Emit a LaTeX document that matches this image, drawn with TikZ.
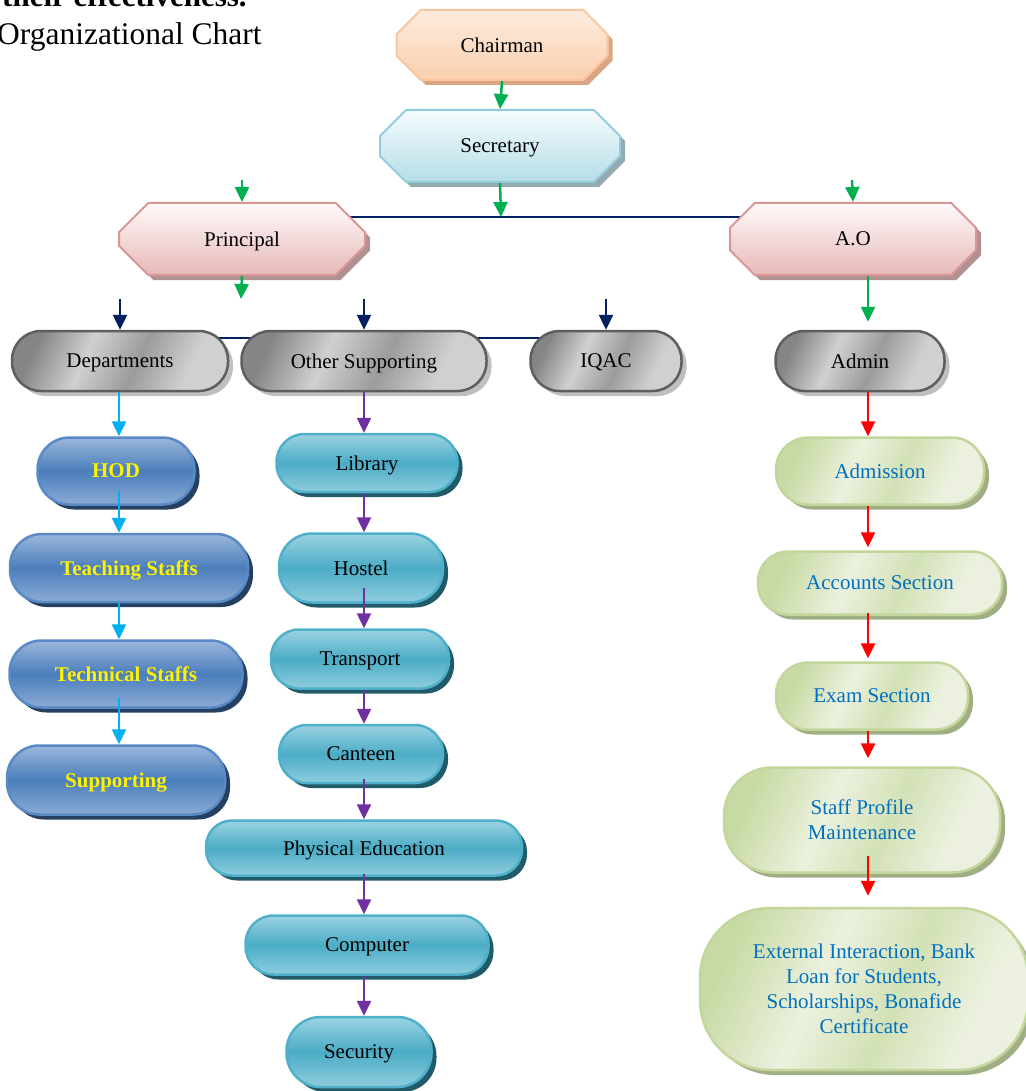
\documentclass[tikz,border=0pt]{standalone}
\usepackage{fontspec}
\setmainfont{Liberation Serif}
\usetikzlibrary{arrows.meta,shapes.misc,shadows,backgrounds}

\definecolor{chairline}{HTML}{F8C79F}
\definecolor{chairtop}{HTML}{FDEBDD}
\definecolor{chairbot}{HTML}{FAD0AE}
\definecolor{chairshd}{HTML}{D9A583}
\definecolor{secline}{HTML}{93CDDD}
\definecolor{sectop}{HTML}{F4FBFD}
\definecolor{secbot}{HTML}{B7DEE8}
\definecolor{secshd}{HTML}{93AAB1}
\definecolor{prinline}{HTML}{D99694}
\definecolor{printop}{HTML}{FFFAFA}
\definecolor{prinbot}{HTML}{E6B9B8}
\definecolor{prinshd}{HTML}{B09090}
\definecolor{grayline}{HTML}{5E5E5E}
\definecolor{grayD}{HTML}{858585}
\definecolor{grayL}{HTML}{D0D0D0}
\definecolor{grayshd}{HTML}{BFBFBF}
\definecolor{blueline}{HTML}{5A8AC6}
\definecolor{bluetop}{HTML}{9BB7DB}
\definecolor{bluemid}{HTML}{4A7EBB}
\definecolor{blueshd}{HTML}{254061}
\definecolor{tealline}{HTML}{4FB0CA}
\definecolor{tealtop}{HTML}{9BD3E2}
\definecolor{tealmid}{HTML}{4BACC6}
\definecolor{tealshd}{HTML}{215A69}
\definecolor{grnline}{HTML}{C3D69B}
\definecolor{grnD}{HTML}{C8DAA4}
\definecolor{grnL}{HTML}{EBF1DE}
\definecolor{grnshd}{HTML}{A0AF83}
\definecolor{txtblue}{HTML}{0070C0}
\definecolor{arrgreen}{HTML}{00B050}
\definecolor{arrnavy}{HTML}{002060}
\definecolor{arrcyan}{HTML}{00B0F0}
\definecolor{arrpurple}{HTML}{7030A0}
\definecolor{arrred}{HTML}{FF0000}

\pgfdeclarehorizontalshading{grayband}{100bp}{color(0bp)=(grayD); color(25bp)=(grayD);
  color(40bp)=(grayL); color(55bp)=(grayD!70!grayL); color(70bp)=(grayL);
  color(75bp)=(grayL); color(100bp)=(grayL)}
\pgfdeclarehorizontalshading{grnband}{100bp}{color(0bp)=(grnD); color(25bp)=(grnD);
  color(42bp)=(grnL); color(56bp)=(grnD!70!grnL); color(70bp)=(grnL);
  color(75bp)=(grnL); color(100bp)=(grnL)}

\newcommand\chartfont{\fontsize{21}{25}\selectfont}

\tikzset{
  box/.style={draw,inner sep=0pt,align=center,font=\chartfont,text depth=0pt},
  shd/.style={drop shadow={shadow xshift=5pt,shadow yshift=-5pt,fill=#1,opacity=1}},
  octa/.style={box,chamfered rectangle,chamfered rectangle xsep=#1,
    chamfered rectangle ysep=#1,line width=2pt},
  pill/.style={box,rounded corners=#1,line width=2.5pt},
  orangebox/.style={draw=chairline,top color=chairtop,bottom color=chairbot,shd=chairshd},
  lbluebox/.style={draw=secline,top color=sectop,bottom color=secbot,shd=secshd},
  pinkbox/.style={draw=prinline,top color=printop,bottom color=prinbot,shd=prinshd},
  graypill/.style={pill=29pt,minimum height=60pt,draw=grayline,shading=grayband,
    shading angle=-25,shd=grayshd},
  bluepill/.style={pill=32pt,draw=blueline,top color=bluetop,
    bottom color=bluetop!80!bluemid,middle color=bluemid,shd=blueshd,text=yellow,
    font=\chartfont\bfseries},
  tealpill/.style={pill=#1,draw=tealline,top color=tealtop,
    bottom color=tealtop!85!tealmid,middle color=tealmid,shd=tealshd},
  grnpill/.style={pill=#1,draw=grnline,shading=grnband,shading angle=-25,
    shd=grnshd,text=txtblue},
  arr/.style={line width=2.5pt,-{Triangle[width=14pt,length=15pt]},draw=#1},
  busline/.style={draw=arrnavy,line width=2pt}
}

\begin{document}
\begin{tikzpicture}[x=1pt,y=-1pt]
\useasboundingbox (0,0) rectangle (1025,1091);

% text above the chart
\node[anchor=base west,inner sep=0pt,font=\fontsize{31}{36}\selectfont\bfseries] (prev) at (2,7) {their effectiveness.};
\node[anchor=base west,inner sep=0pt,font=\fontsize{31.5}{36}\selectfont] (title) at (-3,45) {Organizational Chart};

% top of the chart
\node[octa=17pt,orangebox,minimum width=211pt,minimum height=70pt] (chair) at (502,45) {Chairman};
\node[octa=19pt,lbluebox,minimum width=240pt,minimum height=72pt] (secr) at (500,146) {Secretary};
\node[octa=22pt,pinkbox,minimum width=246pt,minimum height=72pt] (prin) at (242,239) {Principal};
\node[octa=22pt,pinkbox,minimum width=246pt,minimum height=72pt] (ao) at (853,239) {A.O};

% second level
\node[graypill,minimum width=216pt] (dept) at (120,361) {Departments};
\node[graypill,minimum width=245pt] (other) at (364,361) {Other Supporting};
\node[graypill,minimum width=151pt] (iqac) at (606,361) {IQAC};
\node[graypill,minimum width=169pt] (admin) at (860,361) {Admin};

% departments
\node[bluepill,minimum width=157pt,minimum height=67pt] (hod) at (116,471) {HOD};
\node[bluepill,minimum width=238pt,minimum height=68pt] (teach) at (129,568) {Teaching Staffs};
\node[bluepill,minimum width=233pt,minimum height=67pt] (tech) at (126,674) {Technical Staffs};
\node[bluepill,minimum width=218pt,minimum height=69pt] (supp) at (116,780) {Supporting};

% other supporting
\node[tealpill=28pt,minimum width=181pt,minimum height=58pt] (lib) at (367,463) {Library};
\node[tealpill=33pt,minimum width=164pt,minimum height=69pt] (host) at (361,568) {Hostel};
\node[tealpill=28pt,minimum width=178pt,minimum height=59pt] (trans) at (360,659) {Transport};
\node[tealpill=28pt,minimum width=164pt,minimum height=58pt] (cant) at (361,754) {Canteen};
\node[tealpill=26pt,minimum width=316pt,minimum height=55pt] (pe) at (364,848) {Physical Education};
\node[tealpill=28pt,minimum width=243pt,minimum height=59pt] (comp) at (367,945) {Computer};
\node[tealpill=34pt,minimum width=145pt,minimum height=70pt] (secu) at (359,1052) {Security};

% admin
\node[grnpill=32pt,minimum width=208pt,minimum height=67pt] (adm) at (880,471) {Admission};
\node[grnpill=30pt,minimum width=244pt,minimum height=63pt] (acc) at (880,583) {Accounts Section};
\node[grnpill=32pt,minimum width=192pt,minimum height=67pt] (exam) at (872,696) {Exam Section};
\node[grnpill=48pt,minimum width=276pt,minimum height=105pt] (staff) at (862,820) {Staff Profile\\Maintenance};
\node[grnpill=70pt,minimum width=328pt,minimum height=162pt] (ext) at (864,989)
  {External Interaction, Bank\\Loan for Students,\\Scholarships, Bonafide\\Certificate};

% bus lines
\coordinate (bus) at (501,217);
\coordinate (bus2) at (0,338);
\begin{scope}[on background layer]
\draw[busline] (prin.center |- bus) -- (ao.center |- bus);
\draw[busline] (dept.center |- bus2) -- (iqac.center |- bus2);
\end{scope}

% green arrows
\coordinate (prinin) at (242,180);
\coordinate (prinout) at (241,299);
\coordinate (aoin) at (852,180);
\coordinate (aox) at (868,0);
\draw[arr=arrgreen] (chair.south) -- (secr.north);
\draw[arr=arrgreen] (secr.south) -- (bus);
\draw[arr=arrgreen] (prinin) -- (prin.north);
\draw[arr=arrgreen] (prin.south) -- (prinout);
\draw[arr=arrgreen] (aoin) -- (ao.north);
\draw[arr=arrgreen,shorten >=8pt] (ao.south -| aox) -- (admin.north -| aox);

% navy arrows
\foreach \n in {dept,other,iqac}{
  \coordinate (\n-in) at ([yshift=31pt]\n.north);
  \draw[arr=arrnavy] (\n-in) -- (\n.north);
}

% cyan arrows
\coordinate (cyx) at (119,0);
\foreach \a/\b/\s in {dept/hod/0,hod/teach/-15,teach/tech/0,tech/supp/-11}
  \draw[arr=arrcyan,shorten <=\s pt] (\a.south -| cyx) -- (\b.north -| cyx);

% purple arrows
\coordinate (pux) at (364,0);
\foreach \a/\b/\s in {other/lib/0,lib/host/0,host/trans/-16,trans/cant/0,cant/pe/-5,pe/comp/-3,comp/secu/0}
  \draw[arr=arrpurple,shorten <=\s pt] (\a.south -| pux) -- (\b.north -| pux);

% red arrows
\coordinate (rdx) at (868,0);
\foreach \a/\b/\s/\e in {admin/adm/0/0,adm/acc/0/3,acc/exam/-3/3,exam/staff/0/8,staff/ext/-18/11}
  \draw[arr=arrred,shorten <=\s pt,shorten >=\e pt] (\a.south -| rdx) -- (\b.north -| rdx);
\end{tikzpicture}
\end{document}
